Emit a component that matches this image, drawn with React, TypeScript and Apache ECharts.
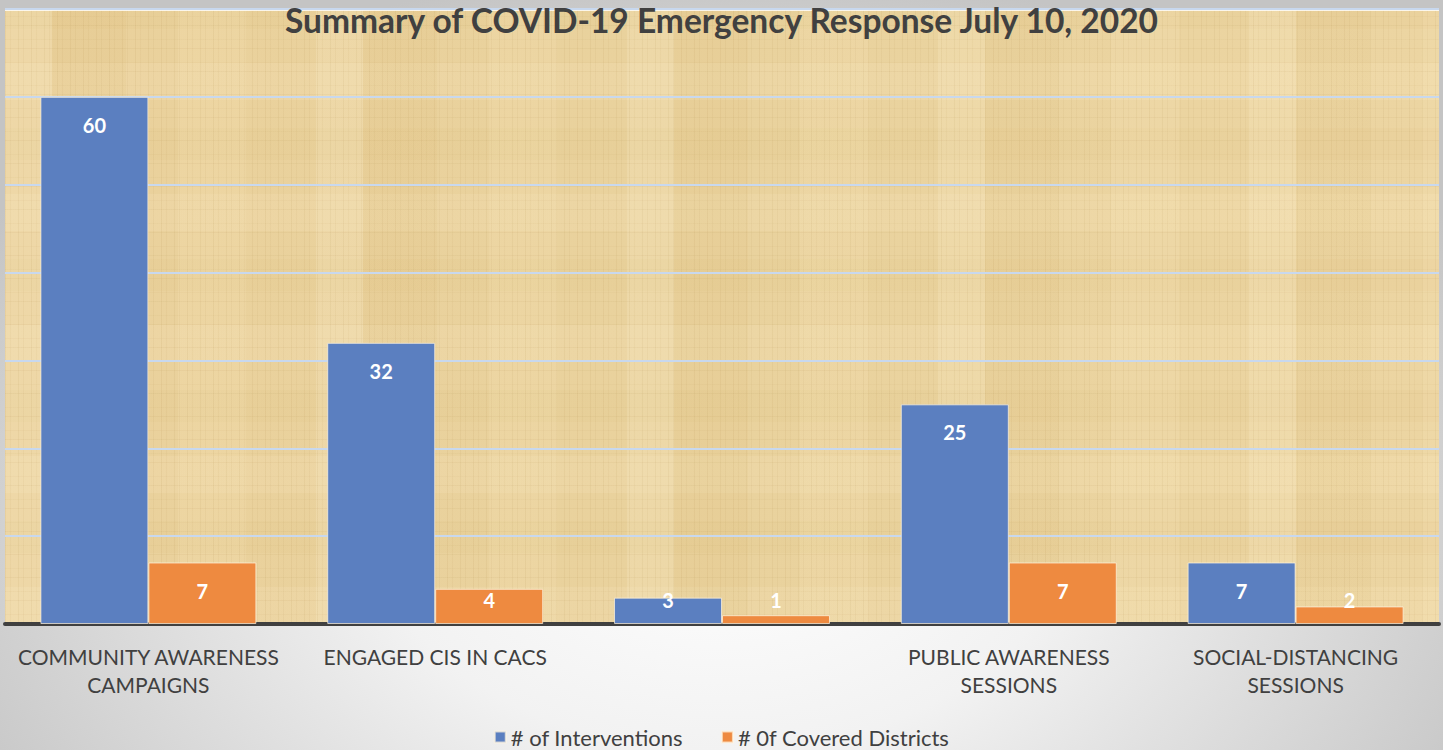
import React, { useEffect, useRef } from "react";
import * as echarts from "echarts";

const categories = [
  "COMMUNITY AWARENESS\nCAMPAIGNS",
  "ENGAGED CIS IN CACS",
  "",
  "PUBLIC AWARENESS\nSESSIONS",
  "SOCIAL-DISTANCING\nSESSIONS",
];
const interventions = [60, 32, 3, 25, 7];
const coveredDistricts = [7, 4, 1, 7, 2];
const seriesNames = ["# of Interventions", "# 0f Covered Districts"];
const titleText = "Summary of COVID-19 Emergency Response July 10, 2020";

const FONT = "Lato, 'Open Sans', sans-serif";

function toData(values: number[]) {
  return values.map((v) =>
    v < 5
      ? { value: v, label: { position: "insideBottom", distance: 14 } }
      : { value: v }
  );
}

export default function App() {
  const ref = useRef<HTMLDivElement>(null);
  useEffect(() => {
    document.body.style.margin = "0";
    const chart = echarts.init(ref.current!, null, { renderer: "svg" });
    const labelStyle = {
      show: true,
      position: "insideTop",
      distance: 18,
      color: "#ffffff",
      fontFamily: FONT,
      fontWeight: "bold",
      fontSize: 20,
    };
    chart.setOption({
      animation: false,
      backgroundColor: "transparent",
      title: {
        text: titleText,
        left: "center",
        top: 3,
        padding: 0,
        textStyle: {
          fontFamily: FONT,
          fontWeight: "bold",
          fontSize: 33.5,
          lineHeight: 34,
          color: "#404040",
        },
      },
      legend: {
        bottom: -3,
        left: "center",
        icon: "rect",
        itemWidth: 11,
        itemHeight: 11,
        itemGap: 38,
        textStyle: { fontFamily: FONT, fontSize: 22, color: "#404040" },
        data: seriesNames,
      },
      grid: { left: 5, right: 4, top: 9, bottom: 126, containLabel: false },
      xAxis: {
        type: "category",
        data: categories,
        axisLine: { show: true, lineStyle: { color: "#404040", width: 4 } },
        axisTick: { show: false },
        axisLabel: {
          interval: 0,
          margin: 18,
          fontFamily: FONT,
          fontSize: 21,
          lineHeight: 28,
          color: "#404040",
        },
      },
      yAxis: {
        type: "value",
        min: 0,
        max: 70,
        interval: 10,
        axisLabel: { show: false },
        axisLine: { show: false },
        axisTick: { show: false },
        splitLine: { lineStyle: { color: "#c8d8ee", width: 2 } },
      },
      series: [
        {
          name: seriesNames[0],
          type: "bar",
          data: toData(interventions),
          barGap: "0%",
          barCategoryGap: "24.7%",
          itemStyle: { color: "#5b7fc0", borderColor: "rgba(255,245,225,0.7)", borderWidth: 1 },
          label: labelStyle,
        },
        {
          name: seriesNames[1],
          type: "bar",
          data: toData(coveredDistricts),
          itemStyle: { color: "#ee8a40", borderColor: "rgba(255,245,225,0.7)", borderWidth: 1 },
          label: labelStyle,
        },
      ],
    });
    return () => chart.dispose();
  }, []);

  const parchment = [
    "repeating-linear-gradient(90deg, rgba(150,110,40,0.07) 0px, rgba(150,110,40,0.07) 1px, transparent 1px, transparent 5px, rgba(150,110,40,0.05) 5px, rgba(150,110,40,0.05) 6px, transparent 6px, transparent 13px)",
    "repeating-linear-gradient(0deg, rgba(150,110,40,0.06) 0px, rgba(150,110,40,0.06) 1px, transparent 1px, transparent 9px, rgba(150,110,40,0.04) 9px, rgba(150,110,40,0.04) 10px, transparent 10px, transparent 23px)",
    "repeating-linear-gradient(90deg, rgba(255,245,215,0.18) 0px, rgba(255,245,215,0.18) 47px, rgba(205,165,85,0.07) 47px, rgba(205,165,85,0.07) 121px, transparent 121px, transparent 173px, rgba(255,240,200,0.12) 173px, rgba(255,240,200,0.12) 241px, transparent 241px, transparent 311px)",
    "repeating-linear-gradient(0deg, rgba(255,240,205,0.14) 0px, rgba(255,240,205,0.14) 37px, transparent 37px, transparent 71px, rgba(205,165,85,0.06) 71px, rgba(205,165,85,0.06) 103px, transparent 103px, transparent 131px)",
    "linear-gradient(90deg, #ead19c, #e9d29d 50%, #ecd5a2)",
  ].join(",");

  return (
    <div
      style={{
        position: "absolute",
        left: 0,
        top: 0,
        width: 1443,
        height: 750,
        overflow: "hidden",
        background: "radial-gradient(ellipse 60% 75% at 50% 70%, #ffffff 0%, #f2f2f2 40%, #c4c4c4 100%)",
      }}
    >
      <div
        style={{
          position: "absolute",
          left: 5,
          top: 9,
          width: 1434,
          height: 615,
          background: parchment,
          borderTop: "2px solid rgba(255,255,255,0.8)",
          boxSizing: "border-box",
        }}
      />
      <div ref={ref} style={{ position: "absolute", left: 0, top: 0, width: 1443, height: 750 }} />
    </div>
  );
}
